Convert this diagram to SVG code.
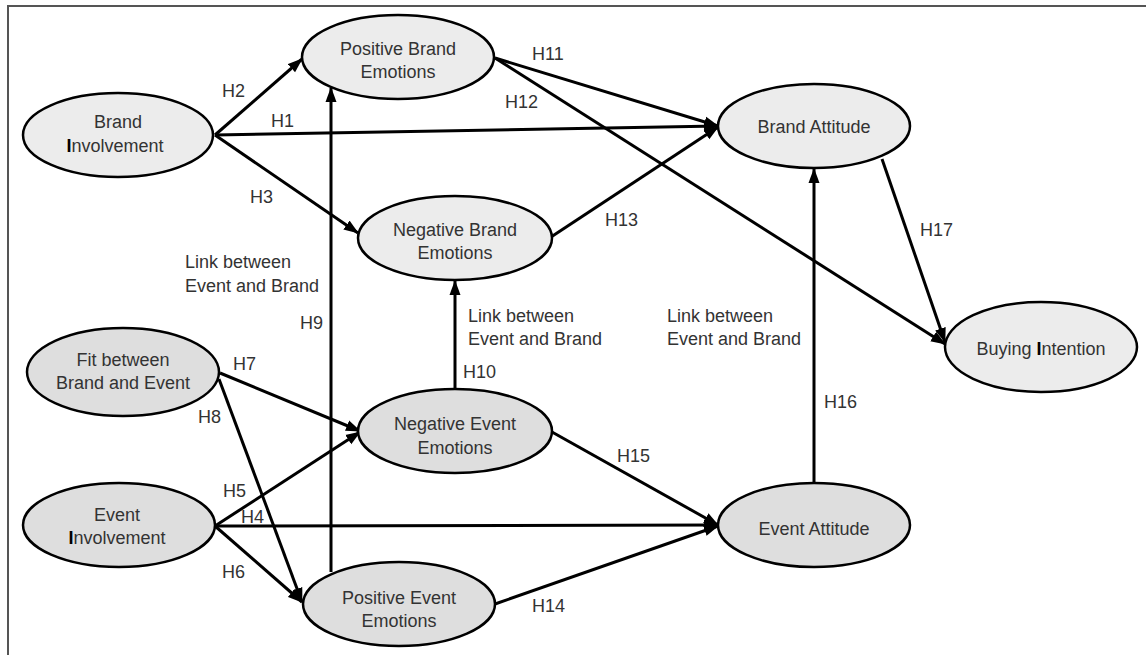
<svg xmlns="http://www.w3.org/2000/svg" width="1146" height="655" viewBox="0 0 1146 655">
<defs>
<marker id="ah" markerUnits="userSpaceOnUse" markerWidth="15" markerHeight="12" refX="14" refY="6" orient="auto">
<path d="M0,0.5 L15,6 L0,11.5 z" fill="#000"/>
</marker>
<style>
.n{stroke:#000;stroke-width:2.5}
.lt{fill:#ececec}
.dk{fill:#dedede}
text{font-family:"Liberation Sans",Arial,sans-serif;font-size:18px;fill:#333}
.c{text-anchor:middle}
.e{stroke:#000;stroke-width:3;fill:none;marker-end:url(#ah)}
</style>
</defs>
<rect width="1146" height="655" fill="#fff"/>
<path d="M8,655 V6 H1146" fill="none" stroke="#555" stroke-width="2"/>
<g id="connectors">
<line class="e" x1="215" y1="135" x2="302" y2="59"/>
<line class="e" x1="215" y1="135" x2="718" y2="126"/>
<line class="e" x1="215" y1="135" x2="358" y2="233"/>
<line class="e" x1="495" y1="58" x2="718" y2="126"/>
<line class="e" x1="495" y1="58" x2="945" y2="344"/>
<line class="e" x1="551" y1="237" x2="718" y2="127"/>
<line class="e" x1="882" y1="159" x2="945" y2="342"/>
<line class="e" x1="331" y1="572" x2="331" y2="88"/>
<line class="e" x1="455" y1="389" x2="455" y2="281"/>
<line class="e" x1="814" y1="483" x2="814" y2="169"/>
<line class="e" x1="220" y1="373" x2="360" y2="431"/>
<line class="e" x1="219" y1="379" x2="302" y2="602"/>
<line class="e" x1="215" y1="526" x2="360" y2="432"/>
<line class="e" x1="215" y1="526" x2="718" y2="525"/>
<line class="e" x1="215" y1="526" x2="302" y2="602"/>
<line class="e" x1="552" y1="432" x2="718" y2="525"/>
<line class="e" x1="495" y1="604" x2="718" y2="526"/>
</g>
<g id="labels">
<text x="222" y="97">H2</text>
<text x="271" y="127">H1</text>
<text x="250" y="203">H3</text>
<text x="532" y="60">H11</text>
<text x="505" y="108">H12</text>
<text x="605" y="226">H13</text>
<text x="920" y="236">H17</text>
<text x="185" y="268">Link between</text>
<text x="185" y="292">Event and Brand</text>
<text x="300" y="329">H9</text>
<text x="233" y="370">H7</text>
<text x="198" y="423">H8</text>
<text x="468" y="322">Link between</text>
<text x="468" y="345">Event and Brand</text>
<text x="463" y="378">H10</text>
<text x="667" y="322">Link between</text>
<text x="667" y="345">Event and Brand</text>
<text x="824" y="408">H16</text>
<text x="617" y="462">H15</text>
<text x="532" y="612">H14</text>
<text x="223" y="497">H5</text>
<text x="241" y="523">H4</text>
<text x="222" y="578">H6</text>
</g>
<g id="brand-involvement">
<ellipse class="n lt" cx="118" cy="135" rx="95" ry="42"/>
<text class="c" x="118" y="128">Brand</text>
<text class="c" x="115" y="152"><tspan font-weight="bold" fill="#000">I</tspan>nvolvement</text>
</g>
<g id="positive-brand-emotions">
<ellipse class="n lt" cx="398" cy="57" rx="96" ry="42"/>
<text class="c" x="398" y="55">Positive Brand</text>
<text class="c" x="398" y="78">Emotions</text>
</g>
<g id="negative-brand-emotions">
<ellipse class="n lt" cx="455" cy="238" rx="97" ry="42"/>
<text class="c" x="455" y="236">Negative Brand</text>
<text class="c" x="455" y="259">Emotions</text>
</g>
<g id="brand-attitude">
<ellipse class="n lt" cx="814" cy="126" rx="96" ry="42"/>
<text class="c" x="814" y="133">Brand Attitude</text>
</g>
<g id="buying-intention">
<ellipse class="n lt" cx="1041" cy="347" rx="96" ry="45"/>
<text class="c" x="1041" y="355">Buying <tspan font-weight="bold" fill="#000">I</tspan>ntention</text>
</g>
<g id="fit">
<ellipse class="n dk" cx="123" cy="372" rx="96" ry="44"/>
<text class="c" x="123" y="366">Fit between</text>
<text class="c" x="123" y="389">Brand and Event</text>
</g>
<g id="negative-event-emotions">
<ellipse class="n dk" cx="455" cy="431" rx="97" ry="42"/>
<text class="c" x="455" y="430">Negative Event</text>
<text class="c" x="455" y="454">Emotions</text>
</g>
<g id="event-involvement">
<ellipse class="n dk" cx="119" cy="525" rx="96" ry="42"/>
<text class="c" x="117" y="521">Event</text>
<text class="c" x="117" y="544"><tspan font-weight="bold" fill="#000">I</tspan>nvolvement</text>
</g>
<g id="positive-event-emotions">
<ellipse class="n dk" cx="399" cy="604" rx="96" ry="42"/>
<text class="c" x="399" y="604">Positive Event</text>
<text class="c" x="399" y="627">Emotions</text>
</g>
<g id="event-attitude">
<ellipse class="n dk" cx="814" cy="525" rx="96" ry="42"/>
<text class="c" x="814" y="535">Event Attitude</text>
</g>
</svg>
